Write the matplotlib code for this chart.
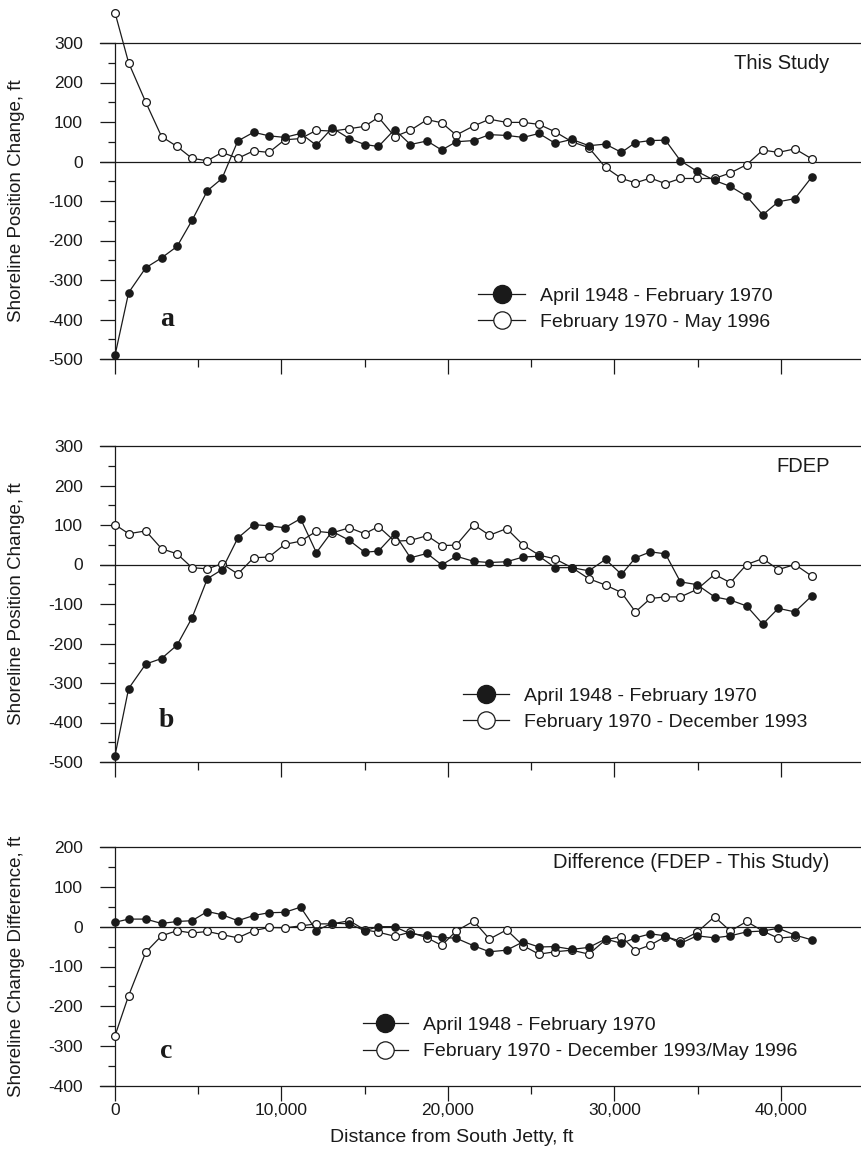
import matplotlib
matplotlib.use("Agg")
import matplotlib.pyplot as plt
from matplotlib.lines import Line2D
from matplotlib.ticker import MultipleLocator, FuncFormatter

plt.rcParams['font.family'] = ['Liberation Sans', 'DejaVu Sans']
plt.rcParams['axes.unicode_minus'] = False

# ---------------- data ----------------
distance = [0, 820, 1850, 2800, 3730, 4630, 5550, 6430, 7380, 8330, 9250, 10200,
            11150, 12100, 13050, 14080, 15000, 15830, 16800, 17750, 18750, 19630,
            20500, 21550, 22500, 23530, 24530, 25470, 26450, 27450, 28470, 29470,
            30430, 31270, 32170, 33070, 33970, 34970, 36020, 36970, 37950, 38920,
            39850, 40850, 41850]

study_48_70 = [-491, -332, -269, -244, -215, -149, -74, -43, 52, 74, 65, 61, 71, 41,
               85, 58, 43, 38, 81, 43, 52, 29, 50, 53, 68, 66, 61, 71, 46, 56, 40,
               44, 23, 48, 53, 54, 2, -25, -48, -63, -88, -135, -102, -94, -40]
study_70_96 = [377, 250, 150, 63, 38, 8, 2, 23, 8, 27, 23, 55, 58, 79, 77, 83, 89,
               112, 63, 79, 106, 98, 67, 90, 107, 99, 99, 94, 75, 50, 35, -15, -43,
               -54, -42, -56, -43, -43, -43, -29, -8, 29, 23, 32, 7]

fdep_48_70 = [-484, -314, -252, -238, -204, -135, -36, -13, 67, 101, 98, 93, 116,
              30, 84, 61, 31, 34, 78, 17, 28, -1, 21, 8, 5, 7, 19, 21, -8, -8, -16,
              13, -25, 17, 32, 27, -44, -51, -82, -90, -105, -151, -111, -120, -80]
fdep_70_93 = [101, 78, 85, 40, 27, -8, -11, 2, -24, 17, 19, 51, 59, 84, 80, 93, 78,
              96, 59, 61, 73, 48, 49, 101, 74, 91, 49, 24, 14, -8, -36, -52, -71,
              -120, -86, -82, -82, -63, -25, -46, 0, 15, -13, 0, -29]

diff_48_70 = [11, 19, 19, 8, 13, 15, 38, 30, 15, 28, 35, 36, 49, -10, 9, 7, -10, 0,
              0, -18, -22, -27, -29, -48, -63, -59, -38, -51, -50, -57, -52, -31,
              -42, -28, -18, -23, -42, -23, -28, -23, -13, -11, -4, -21, -33]
diff_70_9396 = [-274, -173, -64, -23, -10, -16, -12, -20, -28, -10, -2, -3, 2, 7, 7,
                15, -8, -14, -24, -14, -28, -47, -11, 14, -31, -8, -48, -69, -63,
                -59, -69, -33, -25, -60, -46, -25, -36, -14, 25, -11, 13, -11, -29, -25]

panel_titles = ["This Study", "FDEP", "Difference (FDEP - This Study)"]
panel_letters = ["a", "b", "c"]
legend_a = ["April 1948 - February 1970", "February 1970 - May 1996"]
legend_b = ["April 1948 - February 1970", "February 1970 - December 1993"]
legend_c = ["April 1948 - February 1970", "February 1970 - December 1993/May 1996"]
ylabels = ["Shoreline Position Change, ft", "Shoreline Position Change, ft",
           "Shoreline Change Difference, ft"]

# ---------------- figure ----------------
W, H = 862, 1149
fig = plt.figure(figsize=(W / 100, H / 100), dpi=100)
INK = '#1a1a1a'

def ax_rect(top_px, bot_px, left_px=100, right_px=864):
    return [left_px / W, 1 - bot_px / H, (right_px - left_px) / W, (bot_px - top_px) / H]

axes_specs = [
    dict(rect=ax_rect(43, 359), ylim=(-500, 300), s1=study_48_70, s2=study_70_96,
         legend=legend_a, leg_anchor=(0.495, 0.158), handlelength=2.42, letter_y=-400),
    dict(rect=ax_rect(446, 762), ylim=(-500, 300), s1=fdep_48_70, s2=fdep_70_93,
         legend=legend_b, leg_anchor=(0.475, 0.168), handlelength=2.37, letter_y=-395),
    dict(rect=ax_rect(847, 1086), ylim=(-400, 200), s1=diff_48_70, s2=diff_70_9396,
         legend=legend_c, leg_anchor=(0.344, 0.199), handlelength=2.32, letter_y=-314),
]

for i, spec in enumerate(axes_specs):
    ax = fig.add_axes(spec['rect'])
    ax.set_xlim(-900, 45000)
    ax.set_ylim(*spec['ylim'])
    ax.spines['right'].set_visible(False)
    ax.spines['left'].set_position(('data', 0))
    for sp in ax.spines.values():
        sp.set_linewidth(0.9)
        sp.set_color(INK)

    ax.axhline(0, color=INK, lw=0.9, zorder=1)

    ax.plot(distance, spec['s1'], color=INK, lw=0.9, marker='o', ms=5.2,
            mfc=INK, mec=INK, zorder=4, clip_on=False)
    ax.plot(distance[:len(spec['s2'])], spec['s2'], color=INK, lw=0.9, marker='o',
            ms=5.6, mfc='white', mec=INK, mew=0.9, zorder=3, clip_on=False)

    ax.xaxis.set_major_locator(MultipleLocator(10000))
    ax.xaxis.set_minor_locator(MultipleLocator(5000))
    ax.yaxis.set_major_locator(MultipleLocator(100))
    ax.yaxis.set_minor_locator(MultipleLocator(50))
    ax.tick_params(axis='y', which='major', length=11, width=0.9, pad=12,
                   labelsize=12.5, colors=INK)
    ax.tick_params(axis='y', which='minor', length=5, width=0.9, colors=INK)
    ax.tick_params(axis='x', which='major', length=10.5, width=0.9, pad=2,
                   labelsize=12.5, colors=INK)
    ax.tick_params(axis='x', which='minor', length=6, width=0.9, colors=INK)
    if i < 2:
        ax.tick_params(axis='x', labelbottom=False)
    else:
        ax.xaxis.set_major_formatter(FuncFormatter(lambda v, p: f"{int(v):,}"))

    ax.set_ylabel(ylabels[i], fontsize=13.5, color=INK)
    ax.yaxis.set_label_coords(-0.098, 0.5)

    ax.text(0.955, 0.934, panel_titles[i], transform=ax.transAxes, ha='right',
            va='center', fontsize=14.5, color=INK)
    ax.text(3100, spec['letter_y'], panel_letters[i], ha='center', va='center',
            fontsize=20, fontweight='bold', family=['Liberation Serif', 'DejaVu Serif'],
            color=INK)

    handles = [Line2D([], [], color=INK, lw=0.9, marker='o', ms=13, mfc=INK, mec=INK),
               Line2D([], [], color=INK, lw=0.9, marker='o', ms=12.5, mfc='white',
                      mec=INK, mew=0.9)]
    leg = ax.legend(handles, spec['legend'], loc='center left',
                    bbox_to_anchor=spec['leg_anchor'], frameon=False, fontsize=14,
                    handlelength=spec['handlelength'], handletextpad=0.75,
                    labelspacing=0.45, borderpad=0, borderaxespad=0, numpoints=1)
    for t in leg.get_texts():
        t.set_color(INK)

fig.text(452 / W, 1 - 1137 / H, "Distance from South Jetty, ft", ha='center',
         va='center', fontsize=14, color=INK)

fig.savefig("out.png", dpi=100, facecolor='white')
